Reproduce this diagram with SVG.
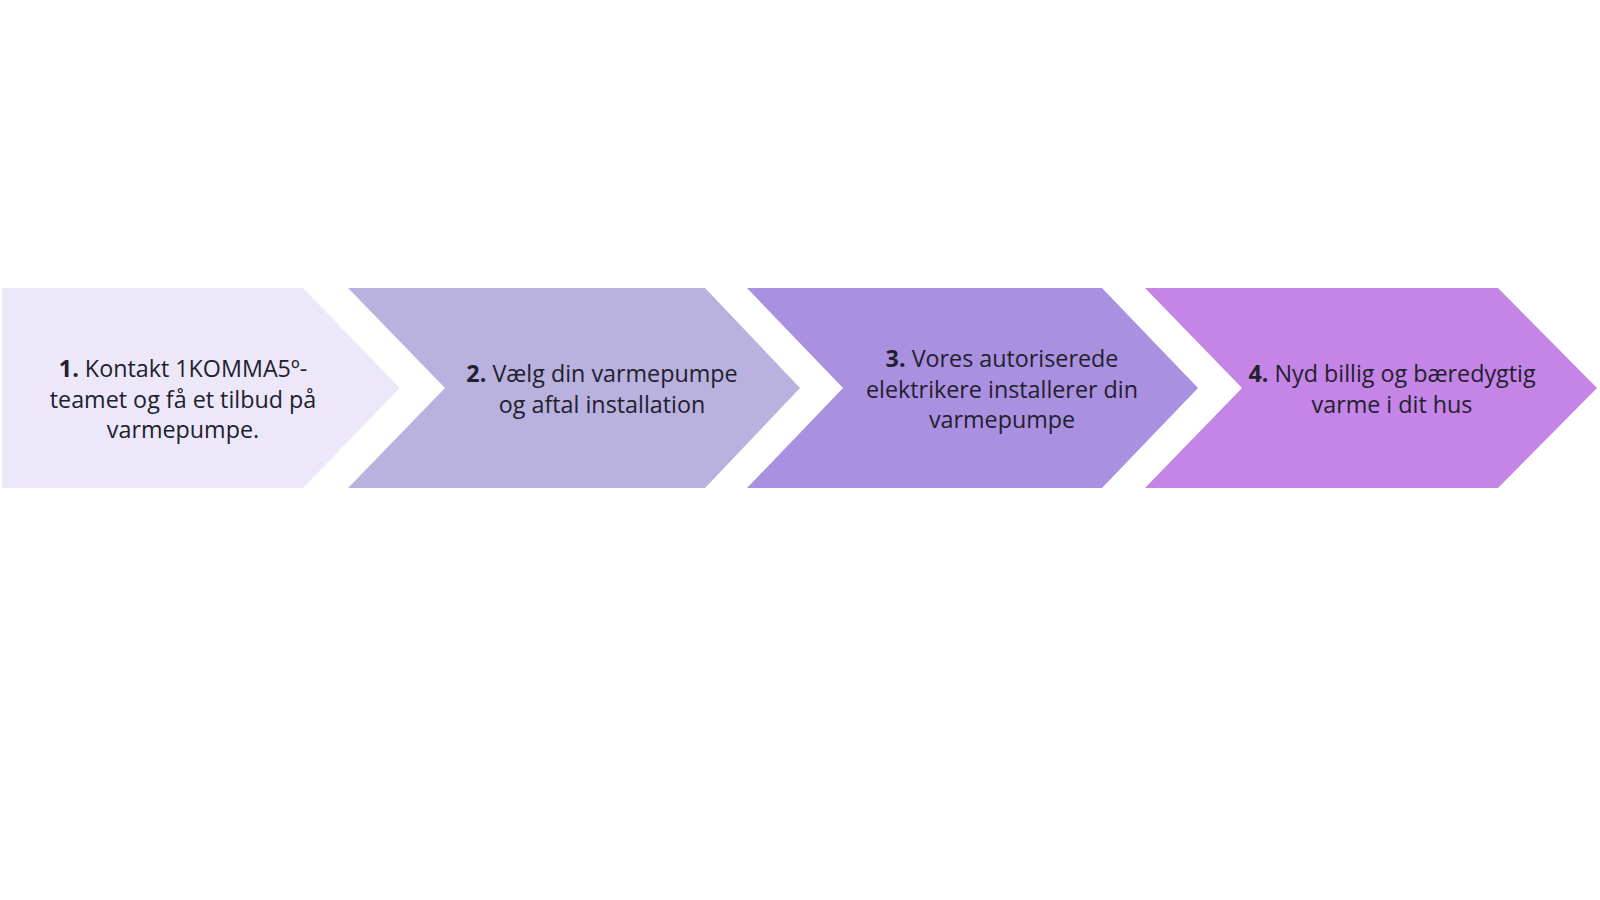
<svg xmlns="http://www.w3.org/2000/svg" width="1600" height="900" viewBox="0 0 1600 900">
<style>
.t{font-family:"Open Sans","Noto Sans","Liberation Sans",sans-serif;font-size:23.3px;fill:#23202e;text-anchor:middle}
.b{font-weight:700}
</style>
<rect width="1600" height="900" fill="#ffffff"/>
<g id="step1">
<polygon points="2,288 303,288 400,388 303,488 2,488" fill="#ECE8FA"/>
<text class="t" x="183" y="377"><tspan class="b">1.</tspan> Kontakt 1KOMMA5º-</text>
<text class="t" x="183" y="408">teamet og få et tilbud på</text>
<text class="t" x="183" y="438">varmepumpe.</text>
</g>
<g id="step2">
<polygon points="348,288 705,288 800,388 705,488 348,488 445,388" fill="#B9B1DE"/>
<text class="t" x="602" y="382"><tspan class="b">2.</tspan> Vælg din varmepumpe</text>
<text class="t" x="602" y="413">og aftal installation</text>
</g>
<g id="step3">
<polygon points="747,288 1102,288 1198,388 1102,488 747,488 843,388" fill="#A990E0"/>
<text class="t" x="1002" y="367"><tspan class="b">3.</tspan> Vores autoriserede</text>
<text class="t" x="1002" y="398">elektrikere installerer din</text>
<text class="t" x="1002" y="428">varmepumpe</text>
</g>
<g id="step4">
<polygon points="1145,288 1498,288 1597,388 1498,488 1145,488 1242,388" fill="#C485E6"/>
<text class="t" x="1392" y="382"><tspan class="b">4.</tspan> Nyd billig og bæredygtig</text>
<text class="t" x="1392" y="413">varme i dit hus</text>
</g>
<g id="connectors"></g>
</svg>
